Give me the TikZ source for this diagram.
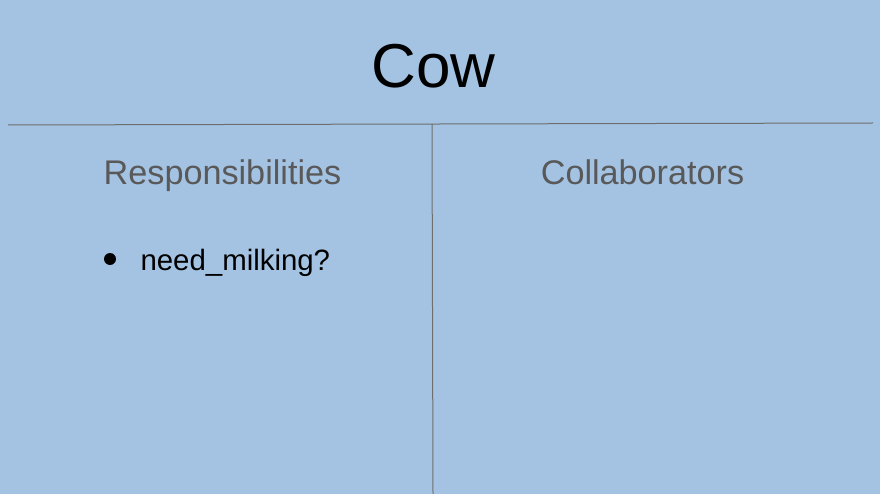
\documentclass[tikz,border=0pt]{standalone}
\usepackage{fontspec}
\setmainfont{Liberation Sans}
\definecolor{cardblue}{HTML}{A4C3E3}
\definecolor{headgray}{HTML}{595959}
\definecolor{rulegray}{HTML}{6E6E6E}
\tikzset{
  heading/.style={anchor=base,text=headgray,font=\fontsize{34.2}{41}\selectfont},
  entry/.style={anchor=base west,font=\fontsize{29.4}{35}\selectfont},
  rule/.style={draw=rulegray,line width=1pt}
}
\begin{document}
\begin{tikzpicture}[x=1pt,y=-1pt]
\fill[cardblue] (0,0) rectangle (880,494);
\useasboundingbox (0,0) rectangle (880,494);
\path (433.5,88) node[anchor=base,font=\fontsize{62}{74}\selectfont](title){Cow}
      (222.5,185) node[heading](resp){Responsibilities}
      (642.5,185) node[heading](collab){Collaborators}
      (110,259) node[circle,fill=black,inner sep=0pt,minimum size=12pt](dot){}
      (137,270) node[entry](item){need\_milking?};
\coordinate (hl) at (8,125);
\coordinate (hr) at (873,123);
\coordinate (vt) at (432,124);
\coordinate (vb) at (433,494);
\draw[rule] (hl) -- (hr);
\draw[rule] (vt) -- (vb);
\end{tikzpicture}
\end{document}
